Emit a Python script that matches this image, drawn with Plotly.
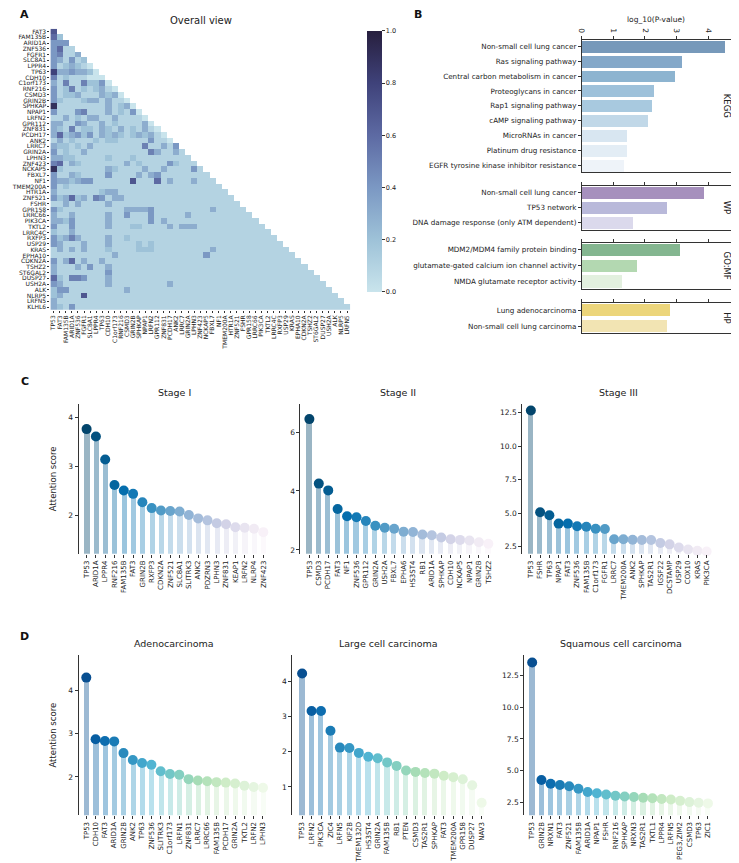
import plotly.graph_objects as go
from plotly.colors import sample_colorscale, sequential

W, H = 739, 863
FONT = "DejaVu Sans"

# ---------------- DATA ----------------
genes = ["TP53", "FAT3", "FAM135B", "ARID1A", "ZNF536", "FGFR1", "SLC8A1", "LPPR4", "TP63", "CDH10",
         "C1orf173", "RNF216", "CSMD3", "GRIN2B", "SPHKAP", "NPAP1", "LRFN2", "GPR112", "ZNF831", "PCDH17",
         "ANK2", "LRRC7", "GRIN2A", "LPHN3", "ZNF423", "NCKAP5", "FBXL7", "NF1", "TMEM200A", "HTR1A",
         "ZNF521", "FSHR", "GPR158", "LRRC66", "PIK3CA", "TKTL2", "LRRC4C", "RXFP3", "USP29", "KRAS",
         "EPHA10", "CDKN2A", "TSHZ2", "ST6GAL2", "DUSP27", "USH2A", "ALK", "NLRP5", "LRFN5", "KLHL6"]

# lower-triangle correlation levels (digit d -> d/10), row i has i+1 cells
heat_rows = [
    "7",
    "62",
    "444",
    "4611",
    "45113",
    "431412",
    "4123210",
    "83343320",
    "512111000",
    "3151152240",
    "41251212310",
    "412231113230",
    "4211123313110",
    "91111111131230",
    "411145111312140",
    "1131213311311110",
    "33114311312111130",
    "321512213213121310",
    "3623424132321232310",
    "13121112122111114110",
    "322121311111111511314",
    "4121131111111111531131",
    "33221111121112111111111",
    "561321111111312111142111",
    "9211111113211113113111141",
    "41132111141111313411111111",
    "433234411111171116131113111",
    "4121111111111111111111111111",
    "31111111233111111111111111111",
    "423623154133111111111111111111",
    "1131311113111111111111111111111",
    "42111111111133334111111111311111",
    "311311111311411141111131111111111",
    "3324111113111111413111111111111111",
    "41141111131112211113133311111111111",
    "211311111111111111111111111111111111",
    "4235311113112111111111111111111111111",
    "43111311131111212111111111111111111111",
    "131313111211112221111111113111111111111",
    "1111111111311111111111111411111111111111",
    "41361311311111111111111111111111111111111",
    "311131411311111111111111111111111111111111",
    "3111111114111111111111111111111111111111111",
    "62155411131111111111111111111111111111111111",
    "431111111311111111131111111111111111111111111",
    "2441111111113111111111111111111111111111111111",
    "23111711111111111111111111111111111111111111111",
    "311111111111111111111111111111111111111111111111",
    "3214111111111111111111111111111111111111111111111",
]

kegg_terms = ["Non-small cell lung cancer", "Ras signaling pathway", "Central carbon metabolism in cancer",
              "Proteoglycans in cancer", "Rap1 signaling pathway", "cAMP signaling pathway",
              "MicroRNAs in cancer", "Platinum drug resistance", "EGFR tyrosine kinase inhibitor resistance"]
kegg_vals = [4.52, 3.18, 2.95, 2.27, 2.21, 2.10, 1.43, 1.43, 1.32]
wp_terms = ["Non-small cell lung cancer", "TP53 network", "DNA damage response (only ATM dependent)"]
wp_vals = [3.86, 2.70, 1.63]
gomf_terms = ["MDM2/MDM4 family protein binding", "glutamate-gated calcium ion channel activity",
              "NMDA glutamate receptor activity"]
gomf_vals = [3.10, 1.74, 1.28]
hp_terms = ["Lung adenocarcinoma", "Non-small cell lung carcinoma"]
hp_vals = [2.78, 2.70]

s1_genes = ["TP53", "ARID1A", "LPPR4", "RNF216", "FAM135B", "FAT3", "GRIN2B", "RXFP3", "CDKN2A", "ZNF521",
            "SLC8A1", "SLITRK3", "ANK2", "PDZRN3", "LPHN3", "ZNF831", "KEAP1", "LRFN2", "NLRP4", "ZNF423"]
s1_vals = [3.76, 3.61, 3.14, 2.62, 2.51, 2.44, 2.27, 2.15, 2.10, 2.09, 2.08, 2.01, 1.94, 1.90, 1.84, 1.82,
           1.76, 1.75, 1.73, 1.66]
s2_genes = ["TP53", "CSMD3", "PCDH17", "FAT3", "NF1", "ZNF536", "GPR112", "GRIN2A", "USH2A", "FBXL7",
            "EPHA6", "HS3ST4", "RB1", "ARID1A", "SPHKAP", "CDH10", "NCKAP5", "NPAP1", "GRIN2B", "TSHZ2"]
s2_vals = [6.44, 4.25, 4.02, 3.39, 3.14, 3.11, 2.98, 2.82, 2.75, 2.72, 2.62, 2.61, 2.52, 2.50, 2.42, 2.36,
           2.34, 2.32, 2.26, 2.21]
s3_genes = ["TP53", "FSHR", "TP63", "NPAP1", "FAT3", "ZNF536", "FAM135B", "C1orf173", "FGFR1", "LRRC7",
            "TMEM200A", "ANK2", "SPHKAP", "TAS2R1", "IGSF22", "DCSTAMP", "USP29", "COX10", "KRAS", "PIK3CA"]
s3_vals = [12.67, 5.07, 4.85, 4.23, 4.23, 4.03, 4.00, 3.85, 3.83, 3.06, 3.06, 3.02, 3.00, 3.00, 2.78, 2.68,
           2.45, 2.30, 2.20, 2.15]

d1_genes = ["TP53", "CDH10", "FAT3", "ARID1A", "GRIN2B", "ANK2", "TP63", "ZNF536", "SLITRK3", "C1orf173",
            "LRFN1", "ZNF831", "LRRC7", "LRRC66", "FAM135B", "PCDH17", "GRIN2A", "TKTL2", "LRFN2", "LPHN3"]
d1_vals = [4.29, 2.87, 2.83, 2.82, 2.55, 2.39, 2.32, 2.28, 2.13, 2.07, 2.05, 1.95, 1.92, 1.90, 1.88, 1.87,
           1.85, 1.80, 1.77, 1.75]
d2_genes = ["TP53", "LRFN2", "PIK3CA", "ZIC4", "LRFN5", "KIF2B", "TMEM132D", "HS3ST4", "GRIN2A", "FAM135B",
            "RB1", "PTEN", "CSMD3", "TAS2R1", "SPHKAP", "FAT3", "TMEM200A", "GPR158", "DUSP27", "NAV3"]
d2_vals = [4.23, 3.16, 3.16, 2.60, 2.12, 2.11, 1.97, 1.86, 1.82, 1.70, 1.60, 1.47, 1.43, 1.40, 1.38, 1.32,
           1.28, 1.22, 1.05, 0.55]
d3_genes = ["TP53", "GRIN2B", "NRXN1", "FAT3", "ZNF521", "FAM135B", "ARID1A", "NPAP1", "FSHR", "RNF216",
            "SPHKAP", "NRXN3", "TAS2R1", "TKTL1", "LPPR4", "LRFN5", "PEG3,ZIM2", "CSMD3", "TP63", "ZIC1"]
d3_vals = [13.55, 4.25, 3.95, 3.85, 3.75, 3.55, 3.30, 3.20, 3.10, 3.00, 2.95, 2.90, 2.85, 2.80, 2.75, 2.70,
           2.60, 2.50, 2.45, 2.40]

# ---------------- HELPERS ----------------
def fx(p):
    return p / W


def fy(p):
    return 1 - p / H


def rgba(c, a):
    c = c.strip()
    if c.startswith("#"):
        r, g, b = int(c[1:3], 16), int(c[3:5], 16), int(c[5:7], 16)
    else:
        r, g, b = [int(float(v)) for v in c[c.index("(") + 1:c.index(")")].split(",")[:3]]
    return f"rgba({r},{g},{b},{a})"


fig = go.Figure()
ann = []
lay = dict(width=W, height=H, margin=dict(l=0, r=0, t=0, b=0), paper_bgcolor="white",
           plot_bgcolor="white", showlegend=False,
           font=dict(family=FONT, size=8, color="#222"))
AX = "#333333"

# ---------------- PANEL A: heatmap ----------------
rows = genes[1:]
cols = genes[:-1]
n = len(rows)
z = []
for s in heat_rows:
    vals = [int(ch) / 10 for ch in s]
    z.append(vals + [None] * (n - len(vals)))

heat_cs = [[0.0, "#c9e4ec"], [0.2, "#9ec2d8"], [0.4, "#7b98c3"], [0.6, "#5d6aa3"],
           [0.8, "#3f427a"], [1.0, "#271f3e"]]
fig.add_trace(go.Heatmap(
    z=z, x=list(range(n)), y=list(range(n)), colorscale=heat_cs, zmin=0, zmax=1,
    xaxis="x", yaxis="y", hoverongaps=False,
    colorbar=dict(x=fx(347), xanchor="left", y=fy(12), yanchor="top", len=282 / H, lenmode="fraction",
                  thickness=15, thicknessmode="pixels", outlinewidth=0,
                  tickvals=[0, 0.2, 0.4, 0.6, 0.8, 1.0],
                  ticktext=["0.0", "0.2", "0.4", "0.6", "0.8", "1.0"],
                  ticks="outside", ticklen=3, tickcolor=AX, tickfont=dict(size=6.5, family=FONT))))
lay["xaxis"] = dict(domain=[fx(38.6), fx(340)], range=[-0.5, n - 0.5], tickvals=list(range(n)),
                    ticktext=cols, tickangle=-90, tickfont=dict(size=6), ticks="outside", ticklen=2,
                    tickcolor=AX, showgrid=False, zeroline=False, showline=False, anchor="y")
lay["yaxis"] = dict(domain=[fy(301.6), fy(19.8)], range=[n - 0.5, -0.5], tickvals=list(range(n)),
                    ticktext=rows, tickfont=dict(size=6), ticks="outside", ticklen=2, tickcolor=AX,
                    showgrid=False, zeroline=False, showline=False, anchor="x")
ann.append(dict(text="Overall view", x=fx(190), y=fy(12), xref="paper", yref="paper", showarrow=False,
                font=dict(size=10), xanchor="center", yanchor="middle"))

# ---------------- PANEL B: enrichment bars ----------------
groups = [
    ("KEGG", kegg_terms, kegg_vals,
     ["#7799ba", "#84a8c9", "#8db4d0", "#9ec1da", "#a8c9df", "#c1d8e8", "#d8e6f1", "#e3edf5", "#eef3f9"],
     30.7, 14.75),
    ("WP", wp_terms, wp_vals, ["#a690bd", "#b9b9da", "#dbd9ec"], 177.3, 14.6),
    ("GO:MF", gomf_terms, gomf_vals, ["#84b690", "#b3d8b1", "#e3f0df"], 234.3, 15.3),
    ("HP", hp_terms, hp_vals, ["#ecd57b", "#f2e4b3"], 295.0, 15.0),
]
for gi, (gname, terms, vals, colors, top, pitch) in enumerate(groups):
    k = gi + 2
    m = len(terms)
    bottom = top + m * pitch
    fig.add_trace(go.Bar(x=vals, y=list(range(m)), orientation="h", marker=dict(color=colors, line=dict(width=0)),
                         width=0.8, xaxis=f"x{k}", yaxis=f"y{k}"))
    lay[f"xaxis{k}"] = dict(domain=[fx(573), fx(724)], range=[0, 4.76], side="top", anchor=f"y{k}",
                            tickvals=[0, 1, 2, 3, 4], showticklabels=(gi == 0), tickangle=90,
                            tickfont=dict(size=7.5), ticks="outside", ticklen=3, tickcolor=AX,
                            showline=True, mirror=True, linecolor=AX, linewidth=1,
                            showgrid=False, zeroline=False)
    lay[f"yaxis{k}"] = dict(domain=[fy(bottom), fy(top)], range=[m - 0.55, -0.45], anchor=f"x{k}",
                            tickvals=list(range(m)), ticktext=terms, tickfont=dict(size=7.2),
                            ticks="outside", ticklen=3, tickcolor=AX, showline=True, mirror=True,
                            linecolor=AX, linewidth=1, showgrid=False, zeroline=False)
    ann.append(dict(text=gname, x=fx(719), y=fy((top + bottom) / 2), xref="paper", yref="paper",
                    showarrow=False, textangle=90, font=dict(size=8.5), xanchor="center", yanchor="middle"))
ann.append(dict(text="log_10(P-value)", x=fx(648), y=fy(11), xref="paper", yref="paper", showarrow=False,
                font=dict(size=7.5), xanchor="center", yanchor="middle"))

# ---------------- PANELS C & D: lollipops ----------------
pubu = sample_colorscale(sequential.PuBu_r, [(i + 1) / 21 for i in range(20)])
gnbu = sample_colorscale(sequential.GnBu_r, [(i + 1) / 21 for i in range(20)])

lolli = [
    ("Stage I", s1_genes, s1_vals, pubu, (67, 259), 75, 9.35, (396, 546), [1.22, 4.27], [2, 3, 4], None),
    ("Stage II", s2_genes, s2_vals, pubu, (290, 486), 299, 9.47, (396, 546), [1.87, 6.95], [2, 4, 6], None),
    ("Stage III", s3_genes, s3_vals, pubu, (513, 707), 521.7, 9.3, (396, 546), [1.98, 13.15],
     [2.5, 5.0, 7.5, 10.0, 12.5], ["2.5", "5.0", "7.5", "10.0", "12.5"]),
    ("Adenocarcinoma", d1_genes, d1_vals, gnbu, (67, 259), 74.7, 9.35, (648, 808), [1.12, 4.8], [2, 3, 4], None),
    ("Large cell carcinoma", d2_genes, d2_vals, gnbu, (281.7, 476), 291.7, 9.5, (648, 808), [0.2, 4.74],
     [1, 2, 3, 4], None),
    ("Squamous cell carcinoma", d3_genes, d3_vals, gnbu, (515, 709), 523, 9.3, (648, 808), [1.47, 14.1],
     [2.5, 5.0, 7.5, 10.0, 12.5], ["2.5", "5.0", "7.5", "10.0", "12.5"]),
]
for li, (title, gl, vl, cols_, (x0, x1), first, pitch, (y0, y1), yr, tv, tt) in enumerate(lolli):
    k = li + 6
    idx = list(range(len(gl)))
    stem_cols = [rgba(c, 0.4) for c in cols_]
    fig.add_trace(go.Bar(x=idx, y=vl, width=0.55, marker=dict(color=stem_cols, line=dict(width=0)),
                         xaxis=f"x{k}", yaxis=f"y{k}"))
    fig.add_trace(go.Scatter(x=idx, y=vl, mode="markers", marker=dict(color=cols_, size=10, line=dict(width=0)),
                             xaxis=f"x{k}", yaxis=f"y{k}", cliponaxis=False))
    left = -(first - x0) / pitch
    right = (x1 - first) / pitch
    lay[f"xaxis{k}"] = dict(domain=[fx(x0), fx(x1)], range=[left, right], anchor=f"y{k}",
                            tickvals=idx, ticktext=gl, tickangle=-90, tickfont=dict(size=7),
                            ticks="outside", ticklen=3, tickcolor=AX, showline=False,
                            showgrid=False, zeroline=False)
    yax = dict(domain=[fy(y1), fy(y0)], range=yr, anchor=f"x{k}", tickvals=tv,
               tickfont=dict(size=7.5), ticks="outside", ticklen=3, tickcolor=AX,
               showline=True, linecolor=AX, linewidth=1, showgrid=False, zeroline=False)
    if tt:
        yax["ticktext"] = tt
    lay[f"yaxis{k}"] = yax
    ann.append(dict(text=title, x=fx((x0 + x1) / 2), y=fy(y0 - 12), xref="paper", yref="paper",
                    showarrow=False, font=dict(size=9.5), xanchor="center", yanchor="middle"))
    if li in (0, 3):
        ann.append(dict(text="Attention score", x=fx(41.5), y=fy((y0 + y1) / 2), xref="paper", yref="paper",
                        showarrow=False, textangle=-90, font=dict(size=8.5), xanchor="center",
                        yanchor="middle"))

for letter, (px_, py_) in {"A": (13, 6), "B": (408, 6), "C": (13, 373), "D": (13, 629)}.items():
    ann.append(dict(text=f"<b>{letter}</b>", x=fx(px_), y=fy(py_), xref="paper", yref="paper",
                    showarrow=False, font=dict(size=11, color="#111"), xanchor="center", yanchor="middle"))

lay["annotations"] = ann
lay["bargap"] = 0
fig.update_layout(**lay)
fig.write_html("out.html")
